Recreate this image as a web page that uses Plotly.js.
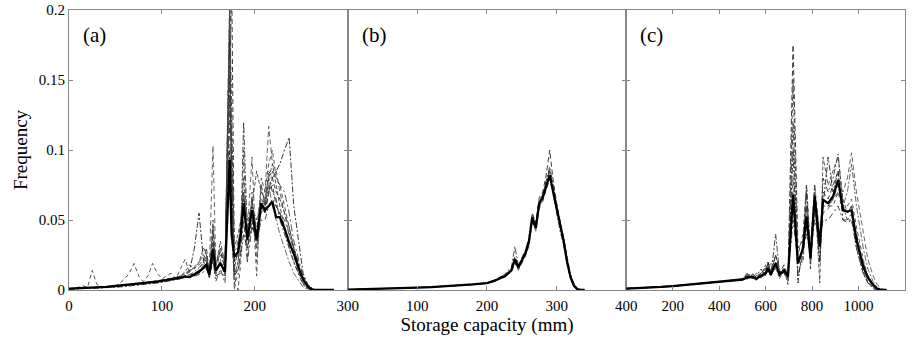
<!DOCTYPE html>
<html>
<head>
<meta charset="utf-8">
<script src="https://cdn.plot.ly/plotly-3.0.1.min.js"></script>
<style>html,body{margin:0;padding:0;background:#fff;}#chart{width:919px;height:337px;}</style>
</head>
<body>
<div id="chart"></div>
<script>
// ---------- Panel (a) ----------
const xA = [0,5,10,15,20,25,30,35,40,45,50,55,60,65,70,75,80,85,90,95,100,105,110,115,120,125,130,135,140,
  145,148,151,155,158,163,168,173,175,178,182,185,188,192,197,202,207,211,215,219,223,227,232,237,242,248,252,257,262,267,275,285];
const meanA = [0.001,0.0011,0.0012,0.0013,0.0015,0.0017,0.0019,0.0021,0.0023,0.0026,
  0.0029,0.0032,0.0035,0.0038,0.0041,0.0044,0.0048,0.0052,0.0056,0.006,
  0.0065,0.007,0.0075,0.008,0.0088,0.0095,0.0092,0.011,0.013,0.016,
  0.018,0.011,0.029,0.014,0.019,0.013,0.093,0.04,0.024,0.027,
  0.04,0.062,0.036,0.057,0.036,0.062,0.057,0.06,0.063,0.052,
  0.052,0.044,0.034,0.026,0.014,0.008,0.0024,0.0003,0,0,0];
const memA1 = [0.001,0.001,0.001,0.0012,0.0014,0.0016,0.0018,0.002,0.0022,0.0025,
  0.0028,0.003,0.0034,0.0037,0.004,0.0043,0.0046,0.005,0.0055,0.006,
  0.0064,0.0068,0.0075,0.008,0.0085,0.009,0.0095,0.011,0.012,0.015,
  0.017,0.009,0.035,0.012,0.02,0.01,0.12,0.23,0.02,0.03,
  0.045,0.065,0.03,0.05,0.03,0.06,0.055,0.07,0.075,0.06,
  0.055,0.045,0.035,0.025,0.012,0.006,0.002,0,0,0,0];
const memA2 = [0.0008,0.0009,0.001,0.0011,0.0013,0.0014,0.0016,0.0018,0.002,0.0023,
  0.0026,0.0029,0.0032,0.0035,0.0038,0.0041,0.0045,0.0049,0.0053,0.0057,
  0.006,0.0066,0.007,0.0076,0.0082,0.009,0.0098,0.012,0.014,0.016,
  0.02,0.012,0.025,0.015,0.018,0.016,0.21,0.1,0.01,0.02,
  0.04,0.12,0.04,0.06,0.045,0.055,0.06,0.08,0.07,0.065,
  0.05,0.04,0.03,0.02,0.01,0.004,0.001,0,0,0,0];
const memA3 = [0.001,0.001,0.0011,0.0012,0.0013,0.0015,0.0017,0.0019,0.0021,0.0024,
  0.0027,0.003,0.0033,0.0036,0.004,0.0044,0.0048,0.0052,0.0056,0.006,
  0.0065,0.007,0.0075,0.008,0.009,0.01,0.011,0.012,0.013,0.018,
  0.022,0.015,0.103,0.02,0.03,0.015,0.19,0.07,0.0,0.02,
  0.035,0.07,0.04,0.095,0.02,0.06,0.07,0.117,0.09,0.085,
  0.07,0.055,0.04,0.028,0.015,0.007,0.002,0,0,0,0];
const memA4 = [0.0005,0.0006,0.0007,0.0008,0.0009,0.001,0.0012,0.0014,0.0016,0.0018,
  0.002,0.0022,0.0025,0.0028,0.003,0.0033,0.0036,0.004,0.0045,0.005,
  0.0055,0.006,0.0065,0.007,0.008,0.01,0.014,0.03,0.055,0.02,
  0.015,0.01,0.02,0.01,0.012,0.01,0.1,0.04,0.01,0.015,
  0.025,0.04,0.03,0.045,0.04,0.06,0.055,0.07,0.08,0.085,
  0.09,0.1,0.109,0.06,0.03,0.012,0.004,0.001,0,0,0];
const memA5 = [0.001,0.001,0.002,0.003,0.002,0.014,0.004,0.002,0.002,0.002,
  0.003,0.005,0.008,0.012,0.019,0.01,0.006,0.01,0.019,0.012,
  0.008,0.01,0.012,0.008,0.015,0.022,0.012,0.01,0.015,0.02,
  0.025,0.01,0.04,0.01,0.03,0.02,0.2,0.05,0.005,0.0,
  0.02,0.1,0.02,0.07,0.01,0.08,0.07,0.09,0.1,0.08,
  0.075,0.06,0.045,0.03,0.015,0.005,0.002,0,0,0,0];
const memA6 = [0.0008,0.0009,0.001,0.0011,0.0012,0.0013,0.0015,0.0017,0.0019,0.002,
  0.0023,0.0026,0.0029,0.0032,0.0035,0.0038,0.0042,0.0046,0.005,0.0055,
  0.006,0.0065,0.007,0.0075,0.008,0.0085,0.009,0.01,0.011,0.013,
  0.016,0.008,0.022,0.006,0.015,0.005,0.15,0.08,0.005,0.01,
  0.03,0.05,0.02,0.045,0.035,0.05,0.05,0.06,0.065,0.06,
  0.055,0.05,0.04,0.03,0.018,0.01,0.004,0.001,0,0,0];
const memA7 = [0.001,0.0011,0.0012,0.0013,0.0014,0.0016,0.0018,0.002,0.0022,0.0024,
  0.0027,0.003,0.0033,0.0036,0.004,0.0044,0.0048,0.0052,0.0056,0.006,
  0.0066,0.0072,0.008,0.0088,0.01,0.013,0.018,0.015,0.02,0.03,
  0.025,0.01,0.05,0.015,0.035,0.018,0.2,0.13,0.03,0.04,
  0.05,0.08,0.05,0.06,0.085,0.07,0.065,0.08,0.09,0.075,
  0.06,0.045,0.03,0.02,0.01,0.004,0.001,0,0,0,0];
const memA8 = [0.001,0.001,0.001,0.0011,0.0012,0.0013,0.0014,0.0016,0.0018,0.002,
  0.0022,0.0025,0.0028,0.003,0.0034,0.0038,0.0042,0.0046,0.005,0.0055,
  0.006,0.0068,0.0076,0.0085,0.0095,0.01,0.011,0.013,0.016,0.02,
  0.024,0.014,0.03,0.02,0.025,0.02,0.16,0.06,0.02,0.025,
  0.04,0.06,0.045,0.06,0.05,0.065,0.06,0.075,0.06,0.05,
  0.04,0.03,0.02,0.012,0.006,0.002,0.0005,0,0,0,0];
const memA9 = [0.0009,0.001,0.0011,0.0012,0.0013,0.0015,0.0017,0.0019,0.0021,0.0023,
  0.0026,0.0029,0.0032,0.0036,0.004,0.0045,0.005,0.0055,0.006,0.0065,
  0.007,0.0075,0.0082,0.009,0.01,0.012,0.014,0.016,0.018,0.022,
  0.03,0.012,0.045,0.018,0.028,0.014,0.18,0.09,0.015,0.03,
  0.05,0.07,0.035,0.065,0.04,0.075,0.06,0.085,0.08,0.07,
  0.065,0.055,0.045,0.03,0.016,0.007,0.002,0,0,0,0];
const memA10 = [0.001,0.001,0.0011,0.0012,0.0014,0.0015,0.0017,0.0019,0.0022,0.0025,
  0.0028,0.0031,0.0035,0.0039,0.0043,0.0047,0.0051,0.0055,0.006,0.0065,
  0.007,0.0074,0.0078,0.0085,0.0095,0.011,0.013,0.017,0.02,0.025,
  0.02,0.01,0.03,0.012,0.022,0.012,0.14,0.11,0.025,0.035,
  0.04,0.055,0.045,0.055,0.05,0.06,0.065,0.07,0.085,0.08,
  0.075,0.07,0.055,0.035,0.02,0.01,0.003,0.0005,0,0,0];

// ---------- Panel (b) ----------
const xB = [0,20,40,60,80,100,120,140,160,180,200,205,210,215,220,225,230,235,240,245,
  250,255,260,265,270,275,280,285,290,295,300,305,310,315,320,325,330,335,340];
const meanB = [0.0003,0.0005,0.0007,0.001,0.0013,0.0017,0.0021,0.0026,0.0032,0.004,
  0.0049,0.0055,0.0065,0.0075,0.009,0.0095,0.012,0.014,0.022,0.016,
  0.021,0.026,0.034,0.052,0.044,0.062,0.066,0.075,0.082,0.07,
  0.058,0.045,0.035,0.02,0.009,0.003,0.0005,0,0];
const memB1 = [0.0003,0.0005,0.0007,0.001,0.0013,0.0017,0.0021,0.0026,0.0032,0.004,
  0.0048,0.0056,0.0066,0.0072,0.0085,0.01,0.012,0.015,0.024,0.017,
  0.022,0.028,0.036,0.055,0.048,0.066,0.07,0.082,0.1,0.078,
  0.062,0.048,0.036,0.02,0.008,0.002,0,0,0];
const memB2 = [0.0003,0.0005,0.0007,0.001,0.0013,0.0017,0.0021,0.0026,0.0032,0.0041,
  0.005,0.0058,0.0068,0.008,0.0095,0.011,0.014,0.016,0.031,0.018,
  0.022,0.027,0.033,0.048,0.046,0.06,0.068,0.078,0.088,0.075,
  0.06,0.047,0.038,0.022,0.01,0.004,0.001,0,0];
const memB3 = [0.0003,0.0004,0.0006,0.0009,0.0012,0.0016,0.002,0.0025,0.0031,0.0038,
  0.0046,0.0052,0.006,0.007,0.0085,0.009,0.011,0.013,0.02,0.014,
  0.019,0.024,0.031,0.05,0.042,0.058,0.064,0.072,0.079,0.074,
  0.062,0.05,0.038,0.024,0.011,0.004,0.001,0,0];
const memB4 = [0.0003,0.0005,0.0008,0.0011,0.0014,0.0018,0.0022,0.0027,0.0033,0.0042,
  0.0052,0.006,0.007,0.0078,0.0092,0.01,0.012,0.015,0.021,0.017,
  0.023,0.028,0.037,0.05,0.047,0.064,0.068,0.078,0.086,0.068,
  0.055,0.042,0.032,0.018,0.008,0.002,0,0,0];
const memB5 = [0.0002,0.0004,0.0006,0.0009,0.0012,0.0016,0.002,0.0025,0.003,0.0038,
  0.0047,0.0053,0.0062,0.0074,0.0088,0.0092,0.0115,0.013,0.019,0.015,
  0.02,0.025,0.035,0.054,0.045,0.06,0.063,0.073,0.084,0.072,
  0.06,0.046,0.036,0.02,0.01,0.003,0,0,0];

// ---------- Panel (c) ----------
const xC = [0,50,100,150,200,250,300,350,400,450,500,
  520,540,560,580,600,610,622,643,660,679,696,718,739,761,776,793,811,833,847,869,890,912,933,952,970,991,1020,1040,1063,1080,1099,1120];
const meanC = [0.001,0.0013,0.0017,0.0022,0.0028,0.0035,0.0042,0.005,0.0058,0.0066,0.0075,
  0.009,0.0095,0.008,0.01,0.012,0.0157,0.011,0.019,0.011,0.014,0.0095,0.068,0.019,0.03,0.0525,
  0.0227,0.0668,0.031,0.0644,0.062,0.0668,0.0787,0.057,0.056,0.057,0.036,0.0167,0.009,0.0036,0.001,0,0];
const memC1 = [0.001,0.0013,0.0017,0.0022,0.0028,0.0035,0.0042,0.005,0.006,0.007,0.008,
  0.01,0.012,0.009,0.012,0.015,0.02,0.012,0.025,0.012,0.018,0.01,0.175,0.03,0.035,0.06,
  0.025,0.07,0.035,0.07,0.065,0.075,0.085,0.06,0.055,0.06,0.04,0.018,0.008,0.003,0.001,0,0];
const memC2 = [0.0012,0.0015,0.0019,0.0024,0.003,0.0037,0.0044,0.0052,0.006,0.0068,0.0078,
  0.011,0.01,0.009,0.011,0.014,0.018,0.01,0.04,0.012,0.016,0.008,0.12,0.01,0.025,0.07,
  0.015,0.06,0.02,0.08,0.07,0.08,0.097,0.06,0.05,0.055,0.03,0.012,0.005,0.002,0,0,0];
const memC3 = [0.0008,0.0011,0.0015,0.002,0.0026,0.0033,0.004,0.0048,0.0056,0.0064,0.0072,
  0.008,0.009,0.007,0.009,0.011,0.014,0.01,0.016,0.01,0.013,0.009,0.06,0.02,0.03,0.045,
  0.025,0.06,0.035,0.055,0.058,0.065,0.075,0.07,0.08,0.098,0.07,0.04,0.022,0.01,0.004,0.001,0];
const memC4 = [0.001,0.0014,0.0018,0.0023,0.0029,0.0036,0.0043,0.0051,0.0059,0.0067,0.0076,
  0.012,0.008,0.01,0.015,0.01,0.02,0.012,0.025,0.015,0.012,0.006,0.1,0.005,0.035,0.075,
  0.02,0.075,0.02,0.06,0.095,0.07,0.085,0.05,0.05,0.05,0.03,0.012,0.005,0.001,0,0,0];
const memC5 = [0.0009,0.0012,0.0016,0.0021,0.0027,0.0034,0.0041,0.0049,0.0057,0.0065,0.0074,
  0.009,0.011,0.01,0.012,0.016,0.013,0.02,0.015,0.01,0.014,0.012,0.08,0.025,0.04,0.075,
  0.03,0.075,0.04,0.065,0.06,0.06,0.07,0.055,0.06,0.065,0.045,0.022,0.01,0.004,0.001,0,0];
const memC6 = [0.001,0.0013,0.0017,0.0022,0.0028,0.0035,0.0042,0.005,0.0058,0.0066,0.0075,
  0.008,0.009,0.008,0.009,0.011,0.014,0.01,0.017,0.01,0.013,0.01,0.05,0.02,0.03,0.04,
  0.025,0.05,0.035,0.05,0.05,0.055,0.06,0.05,0.048,0.05,0.035,0.02,0.01,0.004,0.001,0,0];
const memC7 = [0.0011,0.0014,0.0018,0.0023,0.0029,0.0036,0.0043,0.0051,0.0059,0.0067,0.0077,
  0.01,0.008,0.012,0.01,0.018,0.012,0.015,0.02,0.008,0.015,0.004,0.15,0.02,0.02,0.06,
  0.018,0.07,0.005,0.095,0.075,0.085,0.095,0.065,0.055,0.06,0.035,0.014,0.006,0.002,0,0,0];
const memC8 = [0.0009,0.0012,0.0016,0.0021,0.0027,0.0034,0.0041,0.0049,0.0057,0.0065,0.0073,
  0.009,0.01,0.009,0.011,0.013,0.015,0.011,0.02,0.012,0.014,0.011,0.07,0.03,0.032,0.05,
  0.03,0.065,0.04,0.06,0.06,0.065,0.07,0.06,0.07,0.09,0.06,0.03,0.015,0.006,0.002,0,0];

// ---------- Tick labels / texts ----------
const yTickVals = [0, 0.05, 0.1, 0.15, 0.2];
const yTickText = ['0', '0.05', '0.1', '0.15', '0.2'];
const xTickValsA = [0, 100, 200, 300];
const xTickTextA = ['0', '100', '200', '300'];
const xTickValsB = [0, 100, 200, 300, 400];
const xTickTextB = ['', '100', '200', '300', '400'];
const xTickValsC = [0, 200, 400, 600, 800, 1000, 1200];
const xTickTextC = ['', '200', '400', '600', '800', '1000', '1200'];
const panelLabels = ['(a)', '(b)', '(c)'];

// ---------- Build traces ----------
const styles = [
  {color:'#222', dash:'5px,3px'},
  {color:'#333', dash:'6px,2px,2px,2px'},
  {color:'#555', dash:'5px,3px'},
  {color:'#222', dash:'6px,2px,2px,2px'},
  {color:'#444', dash:'4px,3px'},
  {color:'#333', dash:'6px,3px,2px,3px'},
  {color:'#444', dash:'4px,2px'},
  {color:'#555', dash:'6px,2px,2px,2px'},
  {color:'#333', dash:'5px,2px'},
  {color:'#444', dash:'7px,3px,2px,3px'}
];
const traces = [];
function addPanel(x, members, mean, xa, ya) {
  members.forEach((m, i) => {
    const s = styles[i % styles.length];
    traces.push({x: x, y: m, xaxis: xa, yaxis: ya, type: 'scatter', mode: 'lines',
      line: {color: s.color, width: 0.9, dash: s.dash}, hoverinfo: 'skip'});
  });
  traces.push({x: x, y: mean, xaxis: xa, yaxis: ya, type: 'scatter', mode: 'lines',
    line: {color: '#000', width: 2.3}, hoverinfo: 'skip'});
}
addPanel(xA, [memA1, memA2, memA3, memA4, memA5, memA6, memA7, memA8, memA9, memA10], meanA, 'x', 'y');
addPanel(xB, [memB1, memB2, memB3, memB4, memB5], meanB, 'x2', 'y2');
addPanel(xC, [memC1, memC2, memC3, memC4, memC5, memC6, memC7, memC8], meanC, 'x3', 'y3');

const serif = '"Liberation Serif"';
const frame = {showline: true, linecolor: '#888', linewidth: 1, mirror: 'ticks', ticks: 'inside',
  ticklen: 4, tickcolor: '#888', showgrid: false, zeroline: false,
  tickfont: {family: serif, size: 15, color: '#000'}};
function xax(dom, range, vals, text, anchor) {
  return Object.assign({}, frame, {domain: dom, range: range, tickmode: 'array', tickvals: vals,
    ticktext: text, anchor: anchor, ticklabelstandoff: 2});
}
function yax(anchor, labels) {
  return Object.assign({}, frame, {domain: [0, 1], range: [0, 0.2], tickmode: 'array',
    tickvals: yTickVals, ticktext: yTickText, anchor: anchor, showticklabels: labels});
}
const layout = {
  width: 919, height: 337,
  margin: {l: 69, r: 14, t: 10, b: 47},
  paper_bgcolor: '#fff', plot_bgcolor: '#fff',
  showlegend: false,
  font: {family: serif, color: '#000'},
  xaxis: xax([0, 1/3], [0, 300], xTickValsA, xTickTextA, 'y'),
  xaxis2: Object.assign(xax([1/3, 2/3], [0, 400], xTickValsB, xTickTextB, 'y2'),
    {title: {text: 'Storage capacity (mm)', font: {family: serif, size: 19, color: '#000'}, standoff: 2}}),
  xaxis3: xax([2/3, 1], [0, 1200], xTickValsC, xTickTextC, 'y3'),
  yaxis: Object.assign(yax('x', true),
    {title: {text: 'Frequency', font: {family: serif, size: 19, color: '#000'}, standoff: 6}}),
  yaxis2: yax('x2', false),
  yaxis3: yax('x3', false),
  annotations: panelLabels.map((t, i) => ({
    text: t, showarrow: false,
    xref: (i === 0 ? 'x' : 'x' + (i + 1)) + ' domain',
    yref: (i === 0 ? 'y' : 'y' + (i + 1)) + ' domain',
    x: 0.043, y: 0.912, xanchor: 'left', yanchor: 'middle',
    font: {family: serif, size: 21, color: '#000'}
  }))
};
Plotly.newPlot('chart', traces, layout, {staticPlot: true, displayModeBar: false});
</script>
</body>
</html>
